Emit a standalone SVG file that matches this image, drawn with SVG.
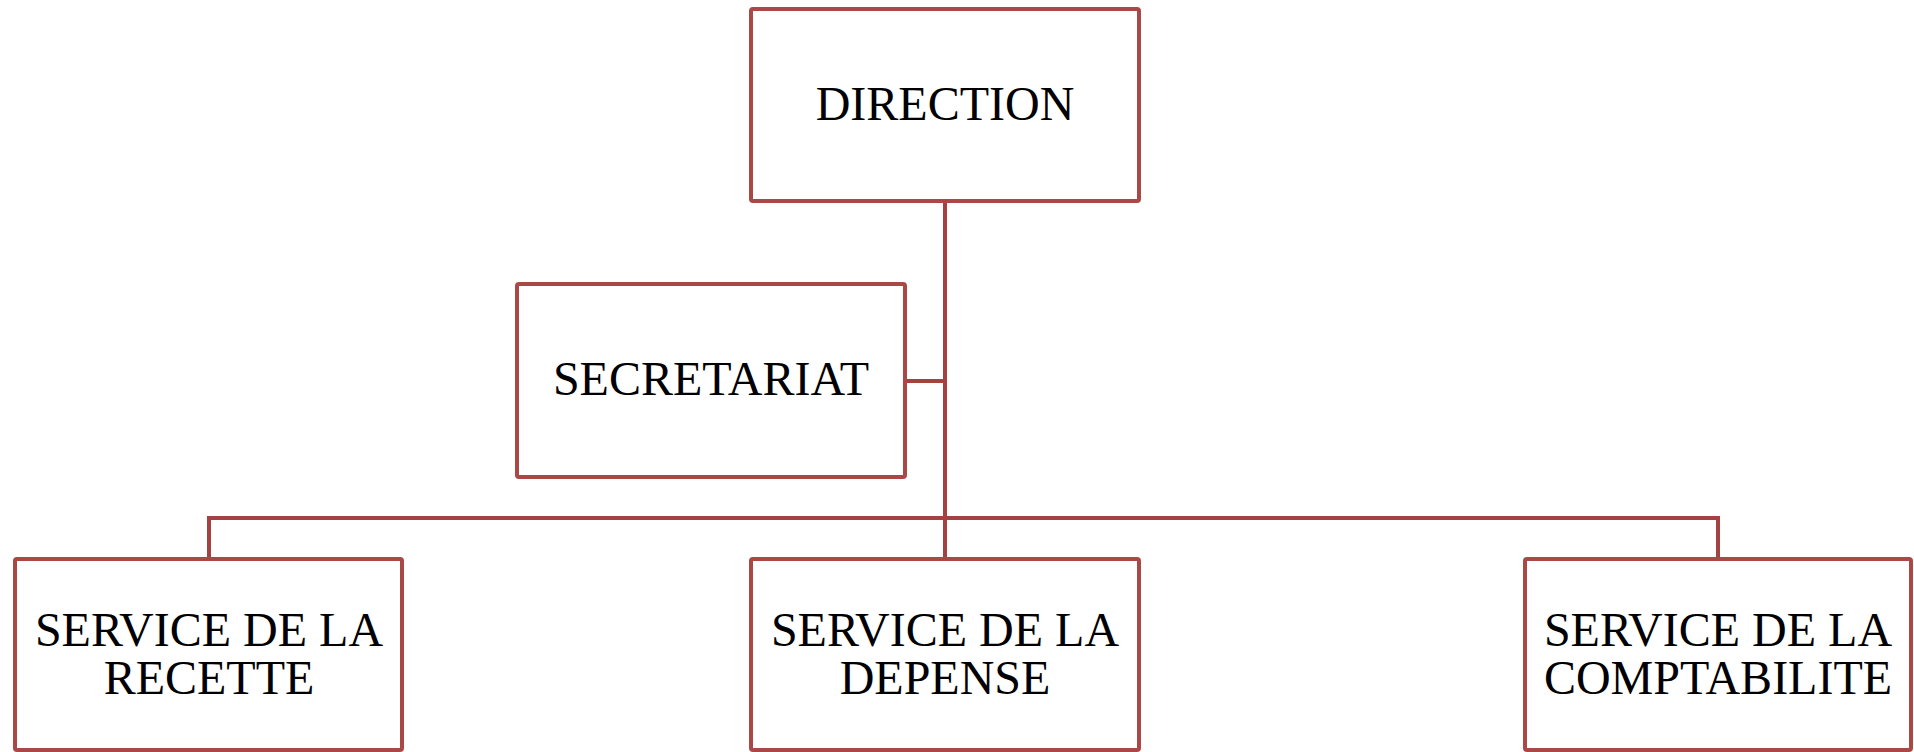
<svg xmlns="http://www.w3.org/2000/svg" width="1914" height="752" viewBox="0 0 1914 752">
<style>
.box{fill:#fff;stroke:#AA4845;stroke-width:4;}
.lbl{font-family:"Liberation Serif","Times New Roman",serif;font-size:48px;fill:#000;text-anchor:middle;}
.con{fill:none;stroke:#A34240;stroke-width:4;}
</style>
<rect width="1914" height="752" fill="#fff"/>
<g id="connectors">
<line class="con" x1="945" y1="201" x2="945" y2="559"/>
<line class="con" x1="905" y1="381" x2="945" y2="381"/>
<polyline class="con" points="209,559 209,518 1718,518 1718,559"/>
</g>
<g id="direction">
<rect class="box" x="751" y="9" width="388" height="192" rx="2"/>
<text class="lbl" x="945" y="120">DIRECTION</text>
</g>
<g id="secretariat">
<rect class="box" x="517" y="284" width="388" height="193" rx="2"/>
<text class="lbl" x="711" y="395">SECRETARIAT</text>
</g>
<g id="recette">
<rect class="box" x="15" y="559" width="387" height="191" rx="2"/>
<text class="lbl" x="209" y="646">SERVICE DE LA</text>
<text class="lbl" x="209" y="694">RECETTE</text>
</g>
<g id="depense">
<rect class="box" x="751" y="559" width="388" height="191" rx="2"/>
<text class="lbl" x="945" y="646">SERVICE DE LA</text>
<text class="lbl" x="945" y="694">DEPENSE</text>
</g>
<g id="comptabilite">
<rect class="box" x="1525" y="559" width="386" height="191" rx="2"/>
<text class="lbl" x="1718" y="646">SERVICE DE LA</text>
<text class="lbl" x="1718" y="694">COMPTABILITE</text>
</g>
</svg>
